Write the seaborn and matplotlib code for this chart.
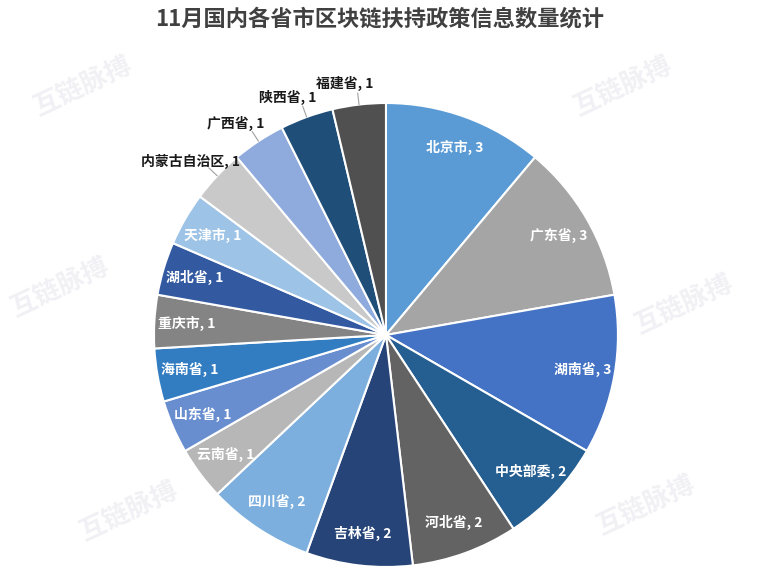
import numpy as np
import matplotlib
matplotlib.use("Agg")
import matplotlib.pyplot as plt
import seaborn as sns

# data
regions = ['北京市', '广东省', '湖南省', '中央部委', '河北省', '吉林省', '四川省',
           '云南省', '山东省', '海南省', '重庆市', '湖北省', '天津市',
           '内蒙古自治区', '广西省', '陕西省', '福建省']
counts = [3, 3, 3, 2, 2, 2, 2, 1, 1, 1, 1, 1, 1, 1, 1, 1, 1]
outside = ['内蒙古自治区', '广西省', '陕西省', '福建省']

colors = sns.color_palette(['#5B9BD5', '#A5A5A5', '#4472C4', '#255E91', '#636363',
                            '#264478', '#7CAFDD', '#B7B7B7', '#698ED0', '#327DC2',
                            '#848484', '#335AA1', '#9DC3E6', '#C9C9C9', '#8FAADC',
                            '#1F4E79', '#505050'])

sns.set_theme(style="white")
plt.rcParams['font.family'] = ['Noto Sans CJK SC', 'DejaVu Sans']

fig = plt.figure(figsize=(7.6, 5.75), dpi=100)
fig.patch.set_facecolor('white')

# faint watermarks
for (wx, wy) in [(0.11, 0.85), (0.82, 0.85), (0.08, 0.50), (0.90, 0.47), (0.17, 0.11), (0.85, 0.12)]:
    fig.text(wx, wy, '互链脉搏', fontsize=19, color='#c8c8d8', alpha=0.25, rotation=25,
             ha='center', va='center', fontweight='bold')

ax = fig.add_axes([0.2026, 0.0139, 0.6105, 0.807])
wedges, _ = ax.pie(counts, colors=colors, startangle=90, counterclock=False,
                   wedgeprops=dict(edgecolor='white', linewidth=1.5))
ax.set_xlim(-1, 1)
ax.set_ylim(-1, 1)
ax.set_aspect('equal')
ax.axis('off')

for w, name, c in zip(wedges, regions, counts):
    mid = np.deg2rad((w.theta1 + w.theta2) / 2)
    label = f'{name}, {c}'
    if name in outside:
        x0, y0 = np.cos(mid), np.sin(mid)
        ax.plot([1.0 * x0, 1.05 * x0], [1.0 * y0, 1.05 * y0], color='#a0a0a0', lw=0.8, clip_on=False)
        ax.text(1.09 * x0 - 0.05, 1.09 * y0, label, ha='center', va='center',
                fontsize=10, fontweight='bold', color='#1a1a1a', clip_on=False)
    else:
        ax.text(0.86 * np.cos(mid), 0.86 * np.sin(mid), label, ha='center', va='center',
                fontsize=10, fontweight='bold', color='white')

fig.text(0.5, 0.967, '11月国内各省市区块链扶持政策信息数量统计', ha='center', va='center',
         fontsize=16, fontweight='bold', color='#404040')

fig.savefig('out.png', dpi=100)
